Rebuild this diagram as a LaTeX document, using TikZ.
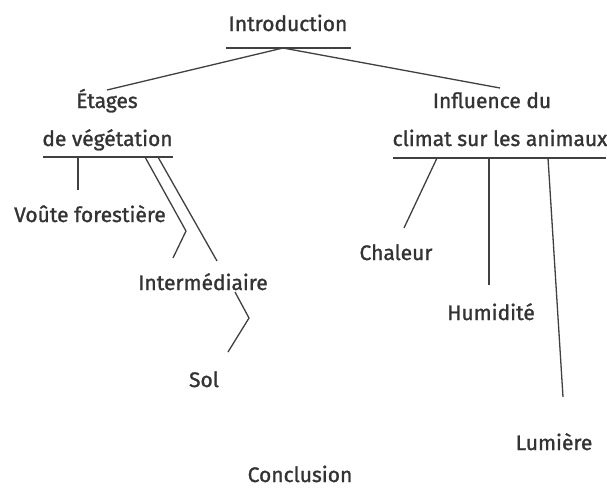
\documentclass[tikz,border=0pt]{standalone}
\usepackage{fontspec}
\setmainfont{Fira Sans}[FakeBold=1.2]
\begin{document}
\begin{tikzpicture}[x=1pt,y=-1pt,
  lbl/.style={inner sep=0pt,anchor=base,font=\fontsize{21}{25}\selectfont,text=black!80},
  ln/.style={draw=black!75,line width=1.3pt}]
\useasboundingbox[fill=white] (0,0) rectangle (607,488);
% texts
\node[lbl] (intro) at (288,31) {Introduction};
\node[lbl] (etA) at (107,108) {Étages};
\node[lbl] (etB) at (107.5,146) {de végétation};
\node[lbl] (inA) at (492,108) {Influence du};
\node[lbl] (inB) at (500,146) {climat sur les animaux};
\node[lbl] (voute) at (90,222) {Voûte forestière};
\node[lbl] (inter) at (203,290) {Intermédiaire};
\node[lbl] (sol) at (204,387) {Sol};
\node[lbl] (chal) at (396,260) {Chaleur};
\node[lbl] (humi) at (491,320) {Humidité};
\node[lbl] (lumi) at (554,450) {Lumière};
\node[lbl] (concl) at (300,482) {Conclusion};
% anchor points
\coordinate (iuL) at (226,48); \coordinate (iuR) at (351,48);
\coordinate (ia) at (283,48);
\coordinate (eEnd) at (107,90); \coordinate (cEnd) at (500,88);
\coordinate (euL) at (43,157); \coordinate (euR) at (173,157);
\coordinate (cuL) at (393,158); \coordinate (cuR) at (606,158);
% underlines
\draw[ln] (iuL) -- (iuR);
\draw[ln] (euL) -- (euR);
\draw[ln] (cuL) -- (cuR);
% intro branches
\draw[ln] (ia) -- (eEnd);
\draw[ln] (ia) -- (cEnd);
% left branches
\coordinate (v0) at (78,157); \coordinate (v1) at (78,190);
\draw[ln] (v0) -- (v1);
\coordinate (a0) at (145,157); \coordinate (a1) at (186,231); \coordinate (a2) at (173,258);
\draw[ln] (a0) -- (a1) -- (a2);
\coordinate (b0) at (158,157); \coordinate (b1) at (217,261);
\draw[ln] (b0) -- (b1);
\coordinate (s0) at (235,292); \coordinate (s1) at (249,318); \coordinate (s2) at (228,352);
\draw[ln] (s0) -- (s1) -- (s2);
% right branches
\coordinate (c0) at (437,158); \coordinate (c1) at (404,228);
\draw[ln] (c0) -- (c1);
\coordinate (h0) at (489,158); \coordinate (h1) at (489,285);
\draw[ln] (h0) -- (h1);
\coordinate (l0) at (548,158); \coordinate (l1) at (563,397);
\draw[ln] (l0) -- (l1);
\end{tikzpicture}
\end{document}
